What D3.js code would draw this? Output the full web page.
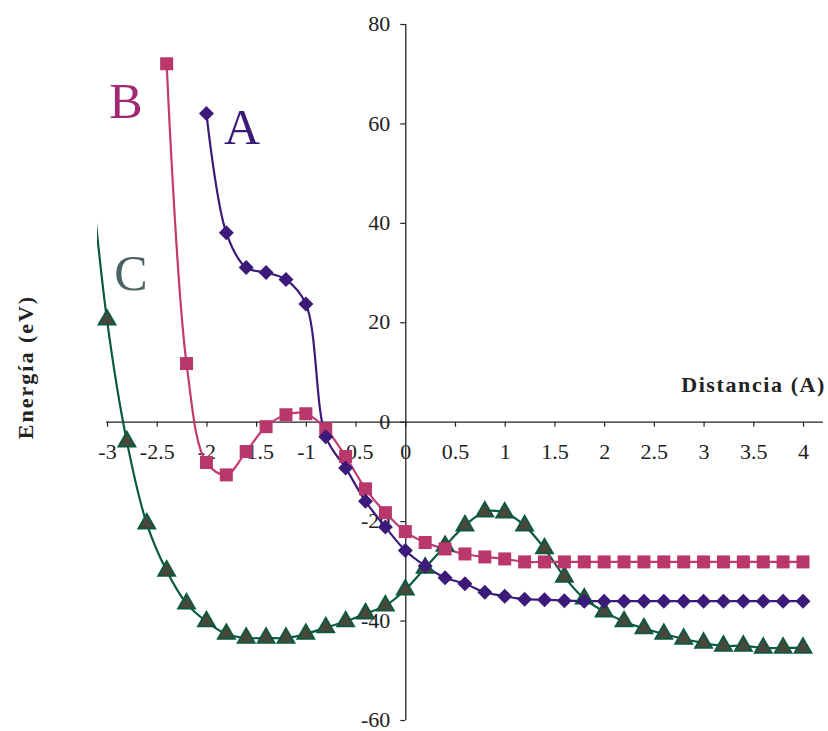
<!DOCTYPE html>
<html>
<head>
<meta charset="utf-8">
<script src="https://cdn.jsdelivr.net/npm/d3@7/dist/d3.min.js"></script>
<style>
  html, body { margin: 0; padding: 0; background: #fff; }
  svg { display: block; }
  text { font-family: "Liberation Serif", "Times New Roman", serif; }
</style>
</head>
<body>
<svg id="chart" width="828" height="731"></svg>
<script>
// Distance (Å) sampled every 0.2
const xA = [-2, -1.8, -1.6, -1.4, -1.2, -1, -0.8, -0.6, -0.4, -0.2, 0, 0.2, 0.4, 0.6, 0.8, 1, 1.2, 1.4, 1.6, 1.8, 2, 2.2, 2.4, 2.6, 2.8, 3, 3.2, 3.4, 3.6, 3.8, 4];
const energyA = [62, 38, 31, 30, 28.6, 23.7, -3, -9.3, -16, -21.2, -25.9, -29, -31.4, -32.6, -34.3, -35.1, -35.7, -35.8, -36, -36.1, -36.1, -36.1, -36.1, -36.1, -36.1, -36.1, -36.1, -36.1, -36.1, -36.1, -36.1];

const xB = [-2.4, -2.2, -2, -1.8, -1.6, -1.4, -1.2, -1, -0.8, -0.6, -0.4, -0.2, 0, 0.2, 0.4, 0.6, 0.8, 1, 1.2, 1.4, 1.6, 1.8, 2, 2.2, 2.4, 2.6, 2.8, 3, 3.2, 3.4, 3.6, 3.8, 4];
const energyB = [72, 11.7, -8.2, -10.7, -6, -1, 1.4, 1.6, -1.4, -7, -13.5, -18.3, -22.1, -24.3, -25.6, -26.6, -27.2, -27.6, -28.2, -28.2, -28.2, -28.2, -28.2, -28.2, -28.2, -28.2, -28.2, -28.2, -28.2, -28.2, -28.2, -28.2, -28.2];

const xC = [-3.2, -3, -2.8, -2.6, -2.4, -2.2, -2, -1.8, -1.6, -1.4, -1.2, -1, -0.8, -0.6, -0.4, -0.2, 0, 0.2, 0.4, 0.6, 0.8, 1, 1.2, 1.4, 1.6, 1.8, 2, 2.2, 2.4, 2.6, 2.8, 3, 3.2, 3.4, 3.6, 3.8, 4];
const energyC = [58, 20.5, -4, -20.5, -30, -36.6, -40.2, -42.7, -43.5, -43.5, -43.5, -42.7, -41.4, -40.2, -38.6, -37, -33.8, -29.4, -25, -20.9, -18.1, -18.3, -20.9, -25.5, -31.2, -35.6, -38.2, -40.2, -41.6, -42.7, -43.7, -44.5, -45.1, -45.1, -45.5, -45.5, -45.5];

const xTicks = [-3, -2.5, -2, -1.5, -1, -0.5, 0, 0.5, 1, 1.5, 2, 2.5, 3, 3.5, 4];
const yTicks = [-60, -40, -20, 0, 20, 40, 60, 80];

const seriesNames = ["A", "B", "C"];

const svg = d3.select("#chart");

const x = d3.scaleLinear().domain([-3, 4]).range([107, 803]);
const y = d3.scaleLinear().domain([-60, 80]).range([720, 24]);

// Plot region clip (left edge slightly before x = -3)
svg.append("defs").append("clipPath").attr("id", "plotClip")
  .append("rect").attr("x", 97).attr("y", 0).attr("width", 731).attr("height", 731);

// Plain number labels: "-3", "-2.5", "0", "0.5" ...
const plainNum = d => String(d);

// X axis along y = 0
const xAxis = d3.axisBottom(x).tickValues(xTicks).tickSize(5).tickPadding(17).tickFormat(plainNum);
const gx = svg.append("g").attr("transform", `translate(0,${y(0)})`).call(xAxis);
gx.attr("font-family", null);
gx.select(".domain").attr("d", `M106,0.5H823`).attr("stroke", "#222").attr("stroke-width", 1.3);
gx.selectAll(".tick line").attr("stroke", "#222").attr("stroke-width", 1.2);
gx.selectAll(".tick text").attr("font-size", 22).attr("fill", "#222");

// Y axis along x = 0
const yAxis = d3.axisLeft(y).tickValues(yTicks).tickSize(5).tickPadding(10).tickFormat(plainNum);
const gy = svg.append("g").attr("transform", `translate(${x(0)},0)`).call(yAxis);
gy.attr("font-family", null);
gy.select(".domain").attr("d", `M0.5,${y(80)}V${y(-60)}`).attr("stroke", "#222").attr("stroke-width", 1.3);
gy.selectAll(".tick line").attr("stroke", "#222").attr("stroke-width", 1.2);
gy.selectAll(".tick text").attr("font-size", 22).attr("fill", "#222")
  .attr("dy", "0.3em");

// Axis titles
svg.append("text").attr("x", 826).attr("y", 392).attr("text-anchor", "end")
  .attr("font-size", 22).attr("font-weight", "bold").attr("fill", "#222")
  .attr("letter-spacing", 1.6)
  .text("Distancia (A)");
svg.append("text").attr("transform", "translate(33,367) rotate(-90)").attr("text-anchor", "middle")
  .attr("font-size", 22).attr("font-weight", "bold").attr("fill", "#222")
  .attr("letter-spacing", 2)
  .text("Energía (eV)");

const line = d3.line().x(d => x(d[0])).y(d => y(d[1])).curve(d3.curveCatmullRom.alpha(0.5));

const dataA = xA.map((v, i) => [v, energyA[i]]);
const dataB = xB.map((v, i) => [v, energyB[i]]);
const dataC = xC.map((v, i) => [v, energyC[i]]);

const plot = svg.append("g").attr("clip-path", "url(#plotClip)");

// Series C: dark green line with triangles
plot.append("path").datum(dataC).attr("d", line)
  .attr("fill", "none").attr("stroke", "#0b5a40").attr("stroke-width", 2.2);
// Series B: pink line with squares
plot.append("path").datum(dataB).attr("d", line)
  .attr("fill", "none").attr("stroke", "#c13a70").attr("stroke-width", 2.2);
// Series A: purple line with diamonds
plot.append("path").datum(dataA).attr("d", line)
  .attr("fill", "none").attr("stroke", "#3b1a7a").attr("stroke-width", 2.2);

const markers = svg.append("g");
const inDomain = d => d[0] >= -3 && d[0] <= 4;

markers.selectAll(".mC").data(dataC.filter(inDomain)).join("path")
  .attr("class", "mC")
  .attr("transform", d => `translate(${x(d[0])},${y(d[1])})`)
  .attr("d", d3.symbol(d3.symbolTriangle, 125)())
  .attr("fill", "#47473a").attr("stroke", "#0b5a40").attr("stroke-width", 1.8);

markers.selectAll(".mB").data(dataB).join("rect")
  .attr("class", "mB")
  .attr("x", d => x(d[0]) - 6.5).attr("y", d => y(d[1]) - 6.5)
  .attr("width", 13).attr("height", 13)
  .attr("fill", "#b9376b");

markers.selectAll(".mA").data(dataA).join("path")
  .attr("class", "mA")
  .attr("transform", d => `translate(${x(d[0])},${y(d[1])})`)
  .attr("d", "M0,-7.5L7.5,0L0,7.5L-7.5,0Z")
  .attr("fill", "#3b1a7a");

// Series labels
const labelInfo = [
  { name: seriesNames[0], x: 242, y: 144, color: "#3b1a78" },
  { name: seriesNames[1], x: 126, y: 118, color: "#a12a72" },
  { name: seriesNames[2], x: 131, y: 290, color: "#4a6464" }
];
svg.selectAll(".lbl").data(labelInfo).join("text")
  .attr("class", "lbl")
  .attr("x", d => d.x).attr("y", d => d.y).attr("text-anchor", "middle")
  .attr("font-size", 50).attr("fill", d => d.color)
  .text(d => d.name);
</script>
</body>
</html>
